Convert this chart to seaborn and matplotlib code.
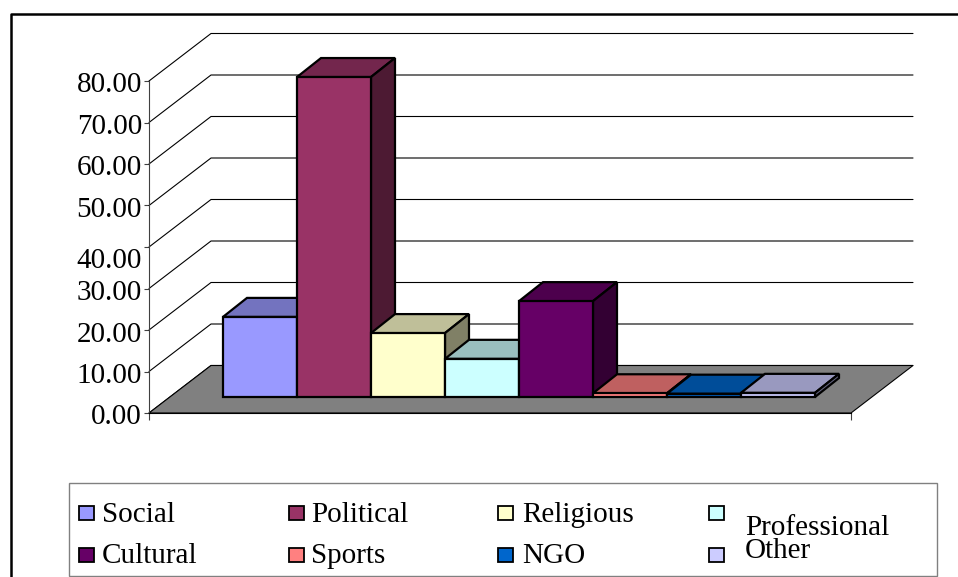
"""Excel-style 3D column chart drawn with seaborn bars and extruded faces."""

import matplotlib
matplotlib.use("Agg")
import matplotlib.pyplot as plt
import pandas as pd
import seaborn as sns
from matplotlib.lines import Line2D
from matplotlib.patches import Polygon, Rectangle
from matplotlib.transforms import ScaledTranslation

groups = ["Social", "Political", "Religious", "Professional",
          "Cultural", "Sports", "NGO", "Other"]
values = [19.3, 77.1, 15.4, 9.2, 23.1, 0.9, 0.8, 1.0]
colors = ["#9999FF", "#993366", "#FFFFCC", "#CCFFFF",
          "#660066", "#FF8080", "#0066CC", "#CCCCFF"]
y_ticks = [0, 10, 20, 30, 40, 50, 60, 70, 80]

W, H = 958, 577
AX_L, AX_R, AX_T, AX_B = 149, 851, 81, 413
PX_X = 1 / (AX_R - AX_L)          # axis units per pixel
PX_Y = 80 / (AX_B - AX_T)

WALL_DX, WALL_DY = 62 * PX_X, 47.5 * PX_Y
BAR_X0, BAR_Y0 = 19 * PX_X, 16 * PX_Y
BAR_DX, BAR_DY = 24 * PX_X, 19 * PX_Y

sns.set_theme(style="white")
plt.rcParams["font.family"] = ["Liberation Serif", "DejaVu Serif"]

df = pd.DataFrame({"category": ["All"] * len(groups), "group": groups, "value": values})

fig = plt.figure(figsize=(W / 100, H / 100), dpi=100, facecolor="white")
ax = fig.add_axes([AX_L / W, 1 - AX_B / H, (AX_R - AX_L) / W, (AX_B - AX_T) / H])
ax.patch.set_visible(False)

sns.barplot(data=df, x="category", y="value", hue="group", hue_order=groups,
            palette=colors, saturation=1, width=592 / 702, gap=0, legend=False,
            edgecolor="black", linewidth=1.6, ax=ax)
ax.set_xlim(-0.5, 0.5)
ax.set_ylim(0, 80)
ax.set_xlabel("")
ax.set_ylabel("")

# back wall gridlines
for v in y_ticks:
    ax.plot([-0.5, -0.5 + WALL_DX, 0.5 + WALL_DX], [v, v + WALL_DY, v + WALL_DY],
            color="black", lw=0.8, clip_on=False, zorder=1)

# floor
ax.add_patch(Polygon([(-0.5, 0), (0.5, 0), (0.5 + WALL_DX, WALL_DY), (-0.5 + WALL_DX, WALL_DY)],
                     facecolor="#808080", edgecolor="black", lw=0.8, clip_on=False, zorder=1.5))


def shade(color, k):
    return tuple(k * c for c in matplotlib.colors.to_rgb(color))


# push each bar back onto the floor and extrude it, left to right
for i, (container, color) in enumerate(zip(ax.containers, colors)):
    bar = container[0]
    x0 = bar.get_x() + BAR_X0
    x1 = x0 + bar.get_width()
    y0 = BAR_Y0
    y1 = y0 + bar.get_height()
    bar.set_x(x0)
    bar.set_y(y0)
    bar.set_clip_on(False)
    bar.set_zorder(3 + i + 0.2)
    top = [(x0, y1), (x1, y1), (x1 + BAR_DX, y1 + BAR_DY), (x0 + BAR_DX, y1 + BAR_DY)]
    side = [(x1, y0), (x1 + BAR_DX, y0 + BAR_DY), (x1 + BAR_DX, y1 + BAR_DY), (x1, y1)]
    ax.add_patch(Polygon(top, facecolor=shade(color, 0.75), edgecolor="black", lw=1.6,
                         clip_on=False, zorder=3 + i))
    ax.add_patch(Polygon(side, facecolor=shade(color, 0.5), edgecolor="black", lw=1.6,
                         clip_on=False, zorder=3 + i + 0.1))

# axes
sns.despine(ax=ax, top=True, right=True)
ax.spines["left"].set_color("#404040")
ax.spines["left"].set_linewidth(0.8)
ax.spines["bottom"].set_color("black")
ax.spines["bottom"].set_linewidth(0.8)
ax.set_xticks([-0.5, 0.5], ["", ""])
ax.tick_params(axis="x", length=5, width=0.8, color="#404040", bottom=True)
ax.set_yticks(y_ticks, [f"{v:.2f}" for v in y_ticks])
ax.tick_params(axis="y", length=3.5, width=0.8, color="#404040", left=True, pad=1.5,
               labelsize=21, labelcolor="black")
for label, v in zip(ax.get_yticklabels(), y_ticks):
    # the 40.00 label sits well below its tick in the original
    shift = 11 if v == 40 else 1.5
    label.set_transform(label.get_transform() + ScaledTranslation(0, -shift / 100, fig.dpi_scale_trans))

# outer frame, cut off at the right and bottom
fig.add_artist(Line2D([11 / W, 11 / W, 1], [0, 1 - 13.5 / H, 1 - 13.5 / H],
                      color="black", lw=1.8, transform=fig.transFigure))

# legend box
fig.add_artist(Rectangle((68.5 / W, 1 - 576 / H), (937 - 68.5) / W, (576 - 483) / H,
                         facecolor="white", edgecolor="#808080", lw=1.0,
                         transform=fig.transFigure))
swatch_x = [78.5, 288.5, 498.5, 708.5, 78.5, 288.5, 498.5, 708.5]
swatch_y = [512.5, 512.5, 512.5, 512.5, 554.5, 554.5, 554.5, 554.5]
text_x = [102, 311, 522, 745, 102, 311, 522, 745]
text_y = [522, 522, 522, 535, 563, 563, 563, 558]
for name, color, sx, sy, tx, ty in zip(groups, colors, swatch_x, swatch_y, text_x, text_y):
    fig.add_artist(Rectangle((sx / W, 1 - (sy + 7) / H), 15 / W, 14 / H,
                             facecolor=color, edgecolor="black", lw=1.3,
                             transform=fig.transFigure))
    fig.text(tx / W, 1 - ty / H, name, fontsize=21, color="black", ha="left", va="baseline")

fig.savefig("out.png", dpi=100)
